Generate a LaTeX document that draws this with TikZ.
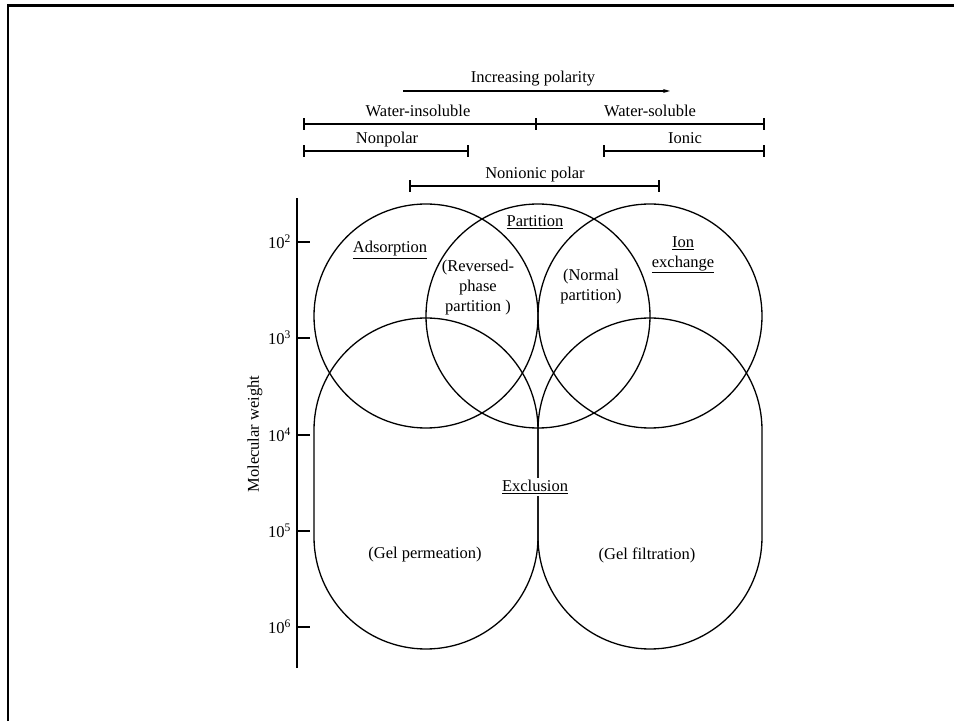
\documentclass[tikz,border=0pt]{standalone}
\usepackage{fontspec}
\setmainfont{Liberation Serif}
\usetikzlibrary{arrows.meta}
\begin{document}
\begin{tikzpicture}[x=1pt,y=1pt,
  lbl/.style={font=\fontsize{16.5}{20}\selectfont, inner sep=0pt},
  ml/.style={lbl, align=center},
  ring/.style={circle, draw, line width=1.3pt, minimum size=224pt, inner sep=0pt},
  bar/.style={line width=1.2pt},
  tick/.style={line width=1.2pt},
  axis/.style={line width=2.5pt}]
\useasboundingbox (0,0) rectangle (954,721);
% frame
\draw[line width=2.6pt] (8,0) -- (8,715.5) -- (954,715.5);

% top scales
\node[lbl, anchor=base] (incr) at (533,638) {Increasing polarity};
\coordinate (arA) at (403,630);
\coordinate (arB) at (670,630);
\draw[bar, -{Stealth[length=7pt,width=4pt]}] (arA) -- (arB);

\coordinate (wL) at (304,597);
\coordinate (wM) at (536,597);
\coordinate (wR) at (764,597);
\draw[bar] (wL) -- (wR);
\foreach \c in {wL,wM,wR} \draw[tick] ([yshift=-6]\c) -- ([yshift=6]\c);
\node[lbl, anchor=base] (wins) at (418,604) {Water-insoluble};
\node[lbl, anchor=base] (wsol) at (650,604) {Water-soluble};

\coordinate (npL) at (304,570);
\coordinate (npR) at (468,570);
\draw[bar] (npL) -- (npR);
\foreach \c in {npL,npR} \draw[tick] ([yshift=-6]\c) -- ([yshift=6]\c);
\node[lbl, anchor=base] (nonpolar) at (387,577) {Nonpolar};

\coordinate (ioL) at (604,570);
\coordinate (ioR) at (764,570);
\draw[bar] (ioL) -- (ioR);
\foreach \c in {ioL,ioR} \draw[tick] ([yshift=-6]\c) -- ([yshift=6]\c);
\node[lbl, anchor=base] (ionic) at (685,577) {Ionic};

\coordinate (niL) at (410,535);
\coordinate (niR) at (659,535);
\draw[bar] (niL) -- (niR);
\foreach \c in {niL,niR} \draw[tick] ([yshift=-6]\c) -- ([yshift=6]\c);
\node[lbl, anchor=base] (nonionic) at (535,542) {Nonionic polar};

% axis
\coordinate (axB) at (297,53);
\coordinate (axT) at (297,523);
\draw[axis] (axB) -- (axT);
\foreach \yy/\e in {479/2,383/3,286/4,190/5,94/6}{
  \draw[tick] (297,\yy) -- (310,\yy);
  \node[lbl, anchor=east] at (291,\yy) {10\textsuperscript{\e}};
}
\node[lbl, rotate=90] (mw) at (255,287) {Molecular weight};

% upper circles
\node[ring] (ads) at (426,405) {};
\node[ring] (par) at (538,405) {};
\node[ring] (ion) at (650,405) {};

% lower stadium shapes
\draw[line width=1.3pt] (314,184) -- (314,291) arc[start angle=180,end angle=0,radius=112]
  -- (538,184) arc[start angle=0,end angle=-180,radius=112] -- cycle;
\draw[line width=1.3pt] (538,184) -- (538,291) arc[start angle=180,end angle=0,radius=112]
  -- (762,184) arc[start angle=0,end angle=-180,radius=112] -- cycle;

% labels
\node[lbl] (adsl) at (390,471) {\underline{Adsorption}};
\node[lbl] (parl) at (535,499) {\underline{Partition}};
\node[ml] (rev) at (478,433) {(Reversed-\\phase\\partition )};
\node[ml] (nor) at (591,434) {(Normal\\partition)};
\node[ml] (ionl) at (683,466) {\underline{Ion}\\\underline{exchange}};
\node[lbl, fill=white, inner ysep=2pt, inner xsep=1pt] (excl) at (535,234) {\underline{Exclusion}};
\node[lbl] (gp) at (425,166) {(Gel permeation)};
\node[lbl] (gf) at (647,166) {(Gel filtration)};
\end{tikzpicture}
\end{document}
